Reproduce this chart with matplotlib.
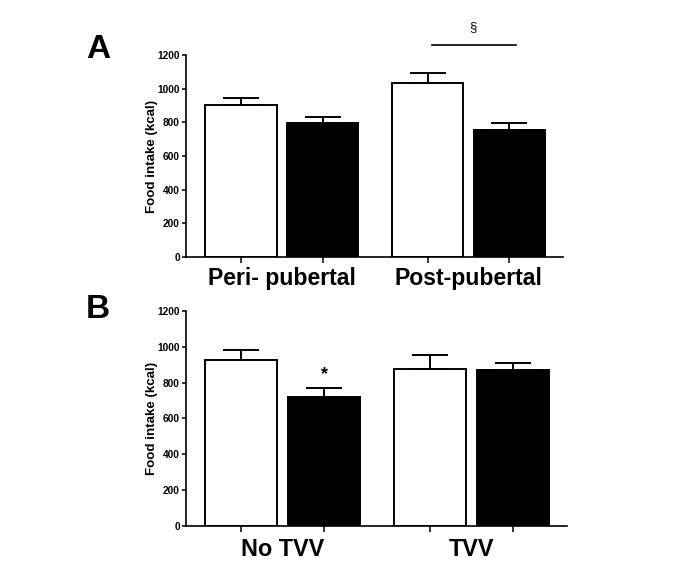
import numpy as np
import matplotlib
matplotlib.use("Agg")
import matplotlib.pyplot as plt

plt.rcParams['font.family'] = ['Liberation Sans', 'DejaVu Sans']
plt.rcParams['font.weight'] = 'bold'

# Panel A: peri-pubertal / post-pubertal
groups_a = ["Peri- pubertal", "Post-pubertal"]
white_a = [901, 1035]
white_a_err = [46, 58]
black_a = [794, 757]
black_a_err = [40, 39]

# Panel B: no TVV / TVV
groups_b = ["No TVV", "TVV"]
white_b = [924, 877]
white_b_err = [61, 77]
black_b = [721, 870]
black_b_err = [47, 39]

yticks = [0, 200, 400, 600, 800, 1000, 1200]

pos = np.array([0.0, 1.0, 2.28, 3.28])
width = 0.87


def draw_panel(ax, groups, white, white_err, black, black_err, label_gap, label_size):
    heights = [white[0], black[0], white[1], black[1]]
    errs = [white_err[0], black_err[0], white_err[1], black_err[1]]
    colors = ["white", "black", "white", "black"]
    ax.errorbar(pos, heights, yerr=[np.zeros(4), errs], fmt="none",
                ecolor="black", elinewidth=1.4, capsize=13, capthick=1.4, zorder=1)
    ax.bar(pos, heights, width=width, color=colors, edgecolor="black",
           linewidth=1.4, zorder=2)
    ax.set_xlim(-0.67, 3.93)
    ax.set_ylim(0, 1200)
    ax.set_yticks(yticks)
    ax.set_yticklabels([str(t) for t in yticks], fontsize=7.3, fontweight="bold")
    ax.set_xticks(pos)
    ax.set_xticklabels([])
    ax.tick_params(axis="x", length=4, width=1.1, direction="out")
    ax.tick_params(axis="y", length=3, width=1.1, direction="out", pad=1.5)
    for s in ["top", "right"]:
        ax.spines[s].set_visible(False)
    for s in ["left", "bottom"]:
        ax.spines[s].set_linewidth(1.2)
    ax.set_ylabel("Food intake (kcal)", fontsize=9.6, fontweight="bold", labelpad=-0.5)
    centers = [(pos[0] + pos[1]) / 2, (pos[2] + pos[3]) / 2]
    for c, g in zip(centers, groups):
        ax.annotate(g, xy=(c, 0), xycoords=("data", "axes fraction"),
                    xytext=(0, -label_gap), textcoords="offset points",
                    ha="center", va="top", fontsize=label_size, fontweight="bold")


fig = plt.figure(figsize=(6.75, 5.7), dpi=100)

ax_a = fig.add_axes([0.2756, 0.549, 0.558, 0.3545])
draw_panel(ax_a, groups_a, white_a, white_a_err, black_a, black_a_err, 7.5, 16.6)
# significance bar between post-pubertal groups
ax_a.plot([pos[2] + 0.05, pos[3] + 0.08], [1257, 1257], color="black", lw=1.2, clip_on=False)
ax_a.text((pos[2] + pos[3]) / 2 + 0.06, 1330, "§", ha="center", va="bottom", fontsize=9.5,
          fontweight="normal")

ax_b = fig.add_axes([0.2756, 0.0772, 0.564, 0.3772])
draw_panel(ax_b, groups_b, white_b, white_b_err, black_b, black_b_err, 8.5, 16.8)
ax_b.text(pos[1], 800, "*", ha="center", va="bottom", fontsize=13, fontweight="bold")

fig.text(0.145, 0.913, "A", fontsize=24, fontweight="bold", ha="center", va="center")
fig.text(0.145, 0.457, "B", fontsize=24, fontweight="bold", ha="center", va="center")

fig.savefig("out.png", dpi=100)
